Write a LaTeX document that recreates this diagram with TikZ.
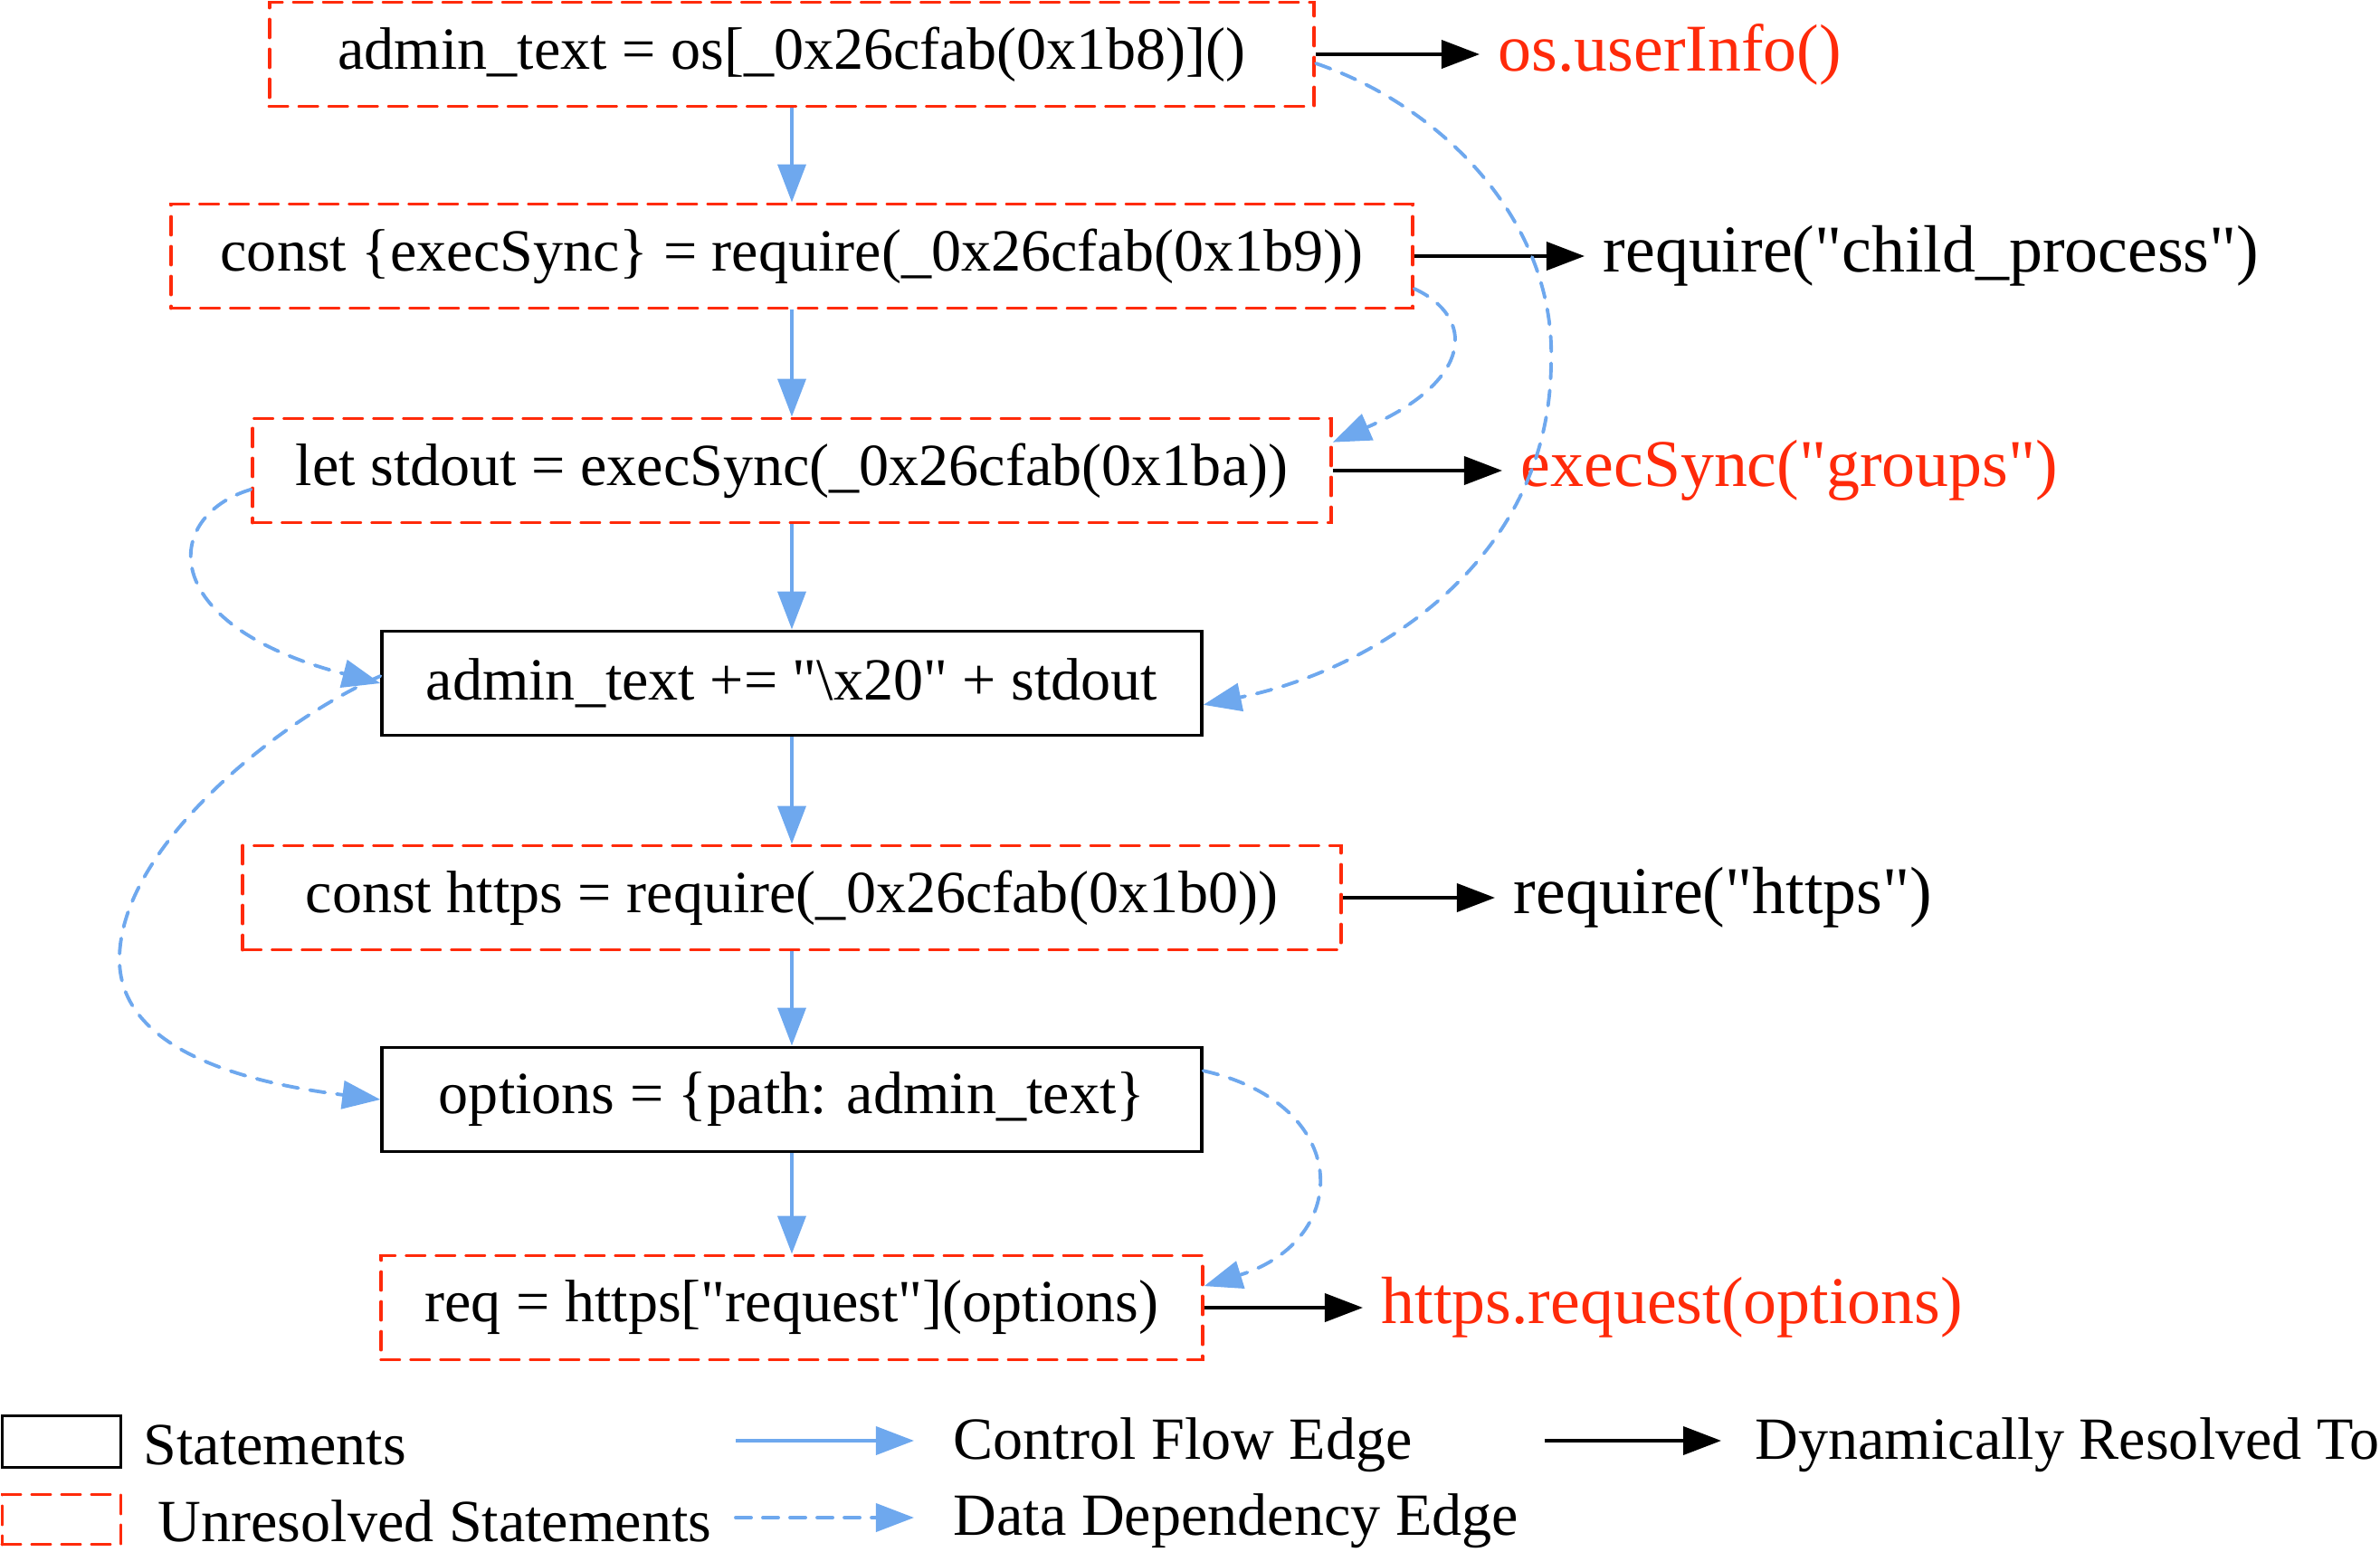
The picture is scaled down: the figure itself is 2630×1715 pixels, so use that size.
\documentclass[tikz,border=0pt]{standalone}
\usepackage{fontspec}
\setmainfont{Liberation Serif}[Ligatures=TeXOff]
\usetikzlibrary{arrows.meta}
\definecolor{flowblue}{RGB}{110,168,238}
\definecolor{unresred}{RGB}{255,42,10}

\begin{document}
\begin{tikzpicture}[x=0.01cm, y=-0.01cm,
    every node/.style={font=\fontsize{18.8}{22}\selectfont, inner sep=0pt},
    stmt/.style={draw, line width=1.1pt, minimum height=1.15cm},
    unres/.style={draw=unresred, line width=1.1pt, dash pattern=on 0.2cm off 0.13cm, line cap=round, minimum height=1.15cm},
    flow/.style={draw=flowblue, line width=1.1pt, -{Triangle[length=0.42cm, width=0.31cm]}},
    dep/.style={flow, dash pattern=on 0.17cm off 0.13cm, line cap=round},
    resolved/.style={line width=1.1pt, -{Triangle[length=0.42cm, width=0.31cm]}},
    result/.style={anchor=west, inner xsep=0.2cm, font=\fontsize{21}{25}\selectfont}]
    \useasboundingbox (0,0) rectangle (2630,1715);

    % Statements
    \node[unres, minimum width=11.54cm] (n1) at (875,60) {admin\_text = os[\_0x26cfab(0x1b8)]()};
    \node[unres, minimum width=13.71cm] (n2) at (875,283) {const \{execSync\} = require(\_0x26cfab(0x1b9))};
    \node[unres, minimum width=11.91cm] (n3) at (875,520) {let stdout = execSync(\_0x26cfab(0x1ba))};
    \node[stmt, minimum width=9.05cm] (n4) at (875,755) {admin\_text += "\textbackslash x20" + stdout};
    \node[unres, minimum width=12.13cm] (n5) at (875,992) {const https = require(\_0x26cfab(0x1b0))};
    \node[stmt, minimum width=9.05cm] (n6) at (875,1215) {options = \{path: admin\_text\}};
    \node[unres, minimum width=9.07cm] (n7) at (875,1445) {req = https["request"](options)};

    % Resolved values
    \node[result, text=unresred] (r1) at (1635,60) {os.userInfo()};
    \node[result] (r2) at (1751,283) {require("child\_process")};
    \node[result, text=unresred] (r3) at (1660,520) {execSync("groups")};
    \node[result] (r4) at (1652,992) {require("https")};
    \node[result, text=unresred] (r5) at (1506,1445) {https.request(options)};

    % Control flow
    \draw[flow] (n1.south) -- (n2.north);
    \draw[flow] (n2.south) -- (n3.north);
    \draw[flow] (n3.south) -- (n4.north);
    \draw[flow] (n4.south) -- (n5.north);
    \draw[flow] (n5.south) -- (n6.north);
    \draw[flow] (n6.south) -- (n7.north);

    % Dynamically resolved
    \draw[resolved] (n1.east) -- (r1.west);
    \draw[resolved] (n2.east) -- (r2.west);
    \draw[resolved] (n3.east) -- (r3.west);
    \draw[resolved] (n5.east) -- (r4.west);
    \draw[resolved] (n7.east) -- (r5.west);

    % Data dependencies
    \draw[dep] (n1.-1) .. controls (1600,120) and (1720,250) .. (1714,402)
        .. controls (1712,620) and (1520,740) .. (n4.-3);
    \draw[dep] (n2.-3) .. controls (1630,350) and (1630,420) .. (n3.3);
    \draw[dep] (n3.182) .. controls (180,570) and (170,690) .. (n4.west);
    \draw[dep] (n4.179) .. controls (300,800) and (132,940) .. (132,1060)
        .. controls (132,1170) and (300,1200) .. (n6.west);
    \draw[dep] (n6.4) .. controls (1495,1220) and (1495,1370) .. (n7.3);

    % Legend
    \node[stmt, minimum width=1.31cm, minimum height=0.57cm] (lstmt) at (68,1593) {};
    \node[anchor=west] (lstmttext) at (158,1597) {Statements};
    \node[unres, minimum width=1.31cm, minimum height=0.55cm] (lunres) at (68,1679) {};
    \node[anchor=west] (lunrestext) at (174,1681) {Unresolved Statements};
    \coordinate (lflowa) at (813,1592);
    \coordinate (lflowb) at (1010,1592);
    \draw[flow] (lflowa) -- (lflowb);
    \node[anchor=west] (lflowtext) at (1053,1597) {Control Flow Edge};
    \coordinate (ldepa) at (813,1677);
    \coordinate (ldepb) at (1010,1677);
    \draw[dep] (ldepa) -- (ldepb);
    \node[anchor=west] (ldeptext) at (1053,1681) {Data Dependency Edge};
    \coordinate (lresa) at (1707,1592);
    \coordinate (lresb) at (1902,1592);
    \draw[resolved] (lresa) -- (lresb);
    \node[anchor=west] (lrestext) at (1939,1597) {Dynamically Resolved To};
\end{tikzpicture}
\end{document}
